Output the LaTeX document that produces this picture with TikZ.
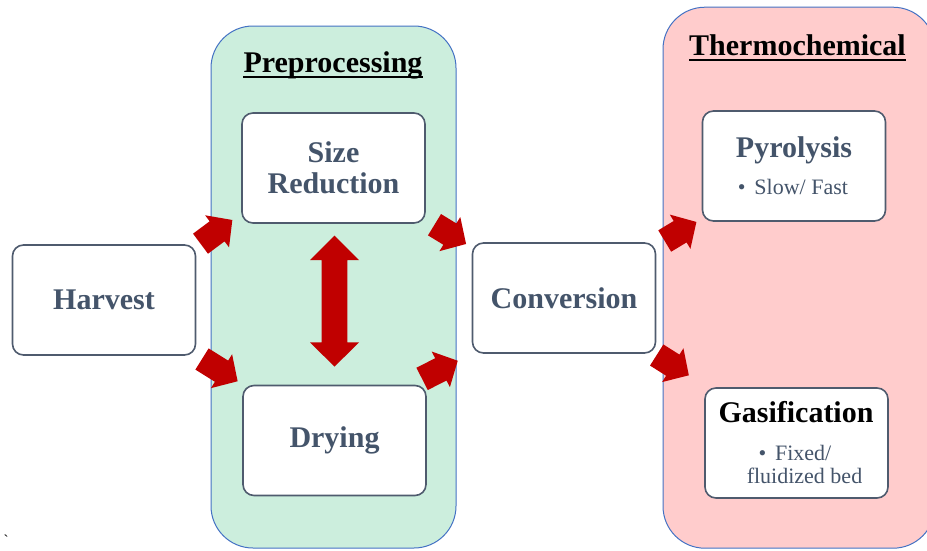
\documentclass[tikz,border=0pt]{standalone}
\usepackage{fontspec}
\setmainfont{Liberation Serif}
\definecolor{txt}{HTML}{44546A}
\definecolor{boxline}{HTML}{4F5B6E}
\definecolor{contline}{HTML}{4472C4}
\definecolor{greenfill}{HTML}{CCEEDD}
\definecolor{pinkfill}{HTML}{FFCCCC}
\definecolor{arrred}{HTML}{C00000}
\tikzset{
  stage/.style={draw=boxline, line width=1.6pt, fill=white, rounded corners=11pt,
    minimum width=183pt, minimum height=110pt, align=center, text=txt,
    font=\bfseries\fontsize{30}{31}\selectfont, inner sep=0pt},
  container/.style={draw=contline, line width=1pt, rounded corners=42pt, inner sep=0pt},
  heading/.style={font=\bfseries\fontsize{30}{31}\selectfont, anchor=base, inner sep=0pt, text=black},
  boxtext/.style={font=\bfseries\fontsize{30}{31}\selectfont, anchor=base, inner sep=0pt, text=txt},
  subtext/.style={font=\fontsize{22}{23}\selectfont, anchor=base, inner sep=0pt, text=txt},
  uline/.style={line width=1.9pt},
}
\newcommand{\blockarrow}[3]{%
  \fill[arrred,shift={(#1)},rotate=#2] (0,-12.5) -- ({#3-19},-12.5) -- ({#3-19},-20) -- (#3,0)
    -- ({#3-19},20) -- ({#3-19},12.5) -- (0,12.5) -- cycle;}
\begin{document}
\begin{tikzpicture}[x=1pt,y=-1pt]
\useasboundingbox (0,0) rectangle (927,550);
\clip (0,0) rectangle (927,550);
% containers
\node[container, fill=greenfill, minimum width=245pt, minimum height=522pt] (prep) at (333.5,287) {};
\node[container, fill=pinkfill, minimum width=272pt, minimum height=541pt] (thermo) at (799,277.7) {};
% headings
\node[heading] (preph) at (333,72) {Preprocessing};
\draw[uline] ([yshift=-5pt]preph.base west) -- ([yshift=-5pt]preph.base east);
\node[heading] (thermoh) at (797.5,55) {Thermochemical};
\draw[uline] ([yshift=-5pt]thermoh.base west) -- ([yshift=-5pt]thermoh.base east);
% boxes
\node[stage] (harvest) at (104,300) {Harvest};
\node[stage] (size) at (333.5,168) {};
\node[boxtext] (sizet1) at (333.5,162) {Size};
\node[boxtext] (sizet2) at (333.5,193) {Reduction};
\node[stage] (drying) at (334.5,440.5) {Drying};
\node[stage] (conv) at (564,298) {Conversion};
\node[stage] (pyro) at (794,166) {};
\node[boxtext] (pyrot) at (794,157) {Pyrolysis};
\node[subtext] (pyros) at (793,194) {\textbullet\hspace{0.4em}Slow/ Fast};
\node[stage] (gas) at (796.5,443) {};
\node[boxtext, text=black] (gast) at (796,422) {Gasification};
\node[subtext] (gass1) at (795,460) {\textbullet\hspace{0.4em}Fixed/};
\node[subtext] (gass2) at (804.5,483) {fluidized bed};
% block arrows
\blockarrow{200.5,243.7}{36.7}{39.7}
\blockarrow{202,359}{-32}{42}
\blockarrow{434.5,224.7}{-31.4}{37}
\blockarrow{422.1,378.9}{27}{40}
\blockarrow{664.7,241}{31}{37}
\blockarrow{656.7,355}{-32.3}{38}
% double arrow
\fill[arrred] (334.5,235.7) -- (359,260) -- (347.3,260) -- (347.3,342.3) -- (359,342.3)
  -- (334.5,366.7) -- (310,342.3) -- (321.7,342.3) -- (321.7,260) -- (310,260) -- cycle;
% stray mark
\node[anchor=base, font=\fontsize{15}{15}\selectfont, inner sep=0pt] (tick) at (6,545) {\textasciigrave};
\end{tikzpicture}
\end{document}
